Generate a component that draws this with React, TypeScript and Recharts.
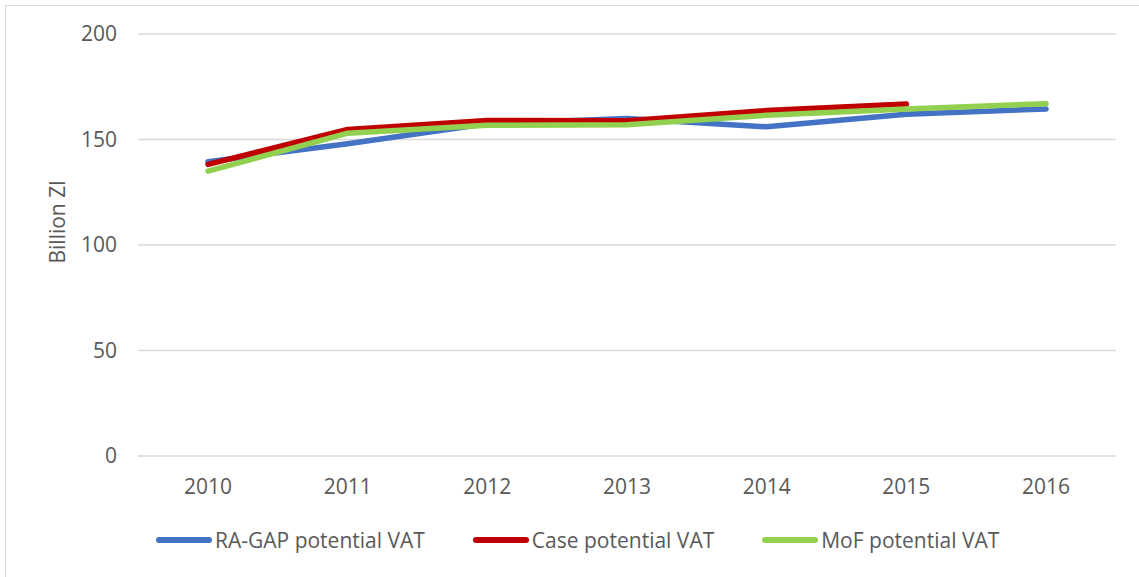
import React from "react";
import { LineChart, Line, XAxis, YAxis, CartesianGrid } from "recharts";

const years = ["2010", "2011", "2012", "2013", "2014", "2015", "2016"];
const raGap = [139.5, 148, 157.5, 160, 156, 162, 164.5];
const casePotential = [138.2, 154.8, 159, 158.9, 163.7, 166.8, null];
const mofPotential = [135, 153, 156.7, 157, 161.5, 164.5, 167];
const yTicks = [0, 50, 100, 150, 200];

const seriesInfo = [
  { key: "ra", name: "RA-GAP potential VAT", color: "#4472C4" },
  { key: "cs", name: "Case potential VAT", color: "#C00000" },
  { key: "mof", name: "MoF potential VAT", color: "#92D050" },
];

const data = years.map((y, i) => ({
  year: y,
  ra: raGap[i],
  cs: casePotential[i],
  mof: mofPotential[i],
}));

const font = "'Open Sans', sans-serif";
const textColor = "#595959";
const fs = 21;

function LegendRow() {
  return (
    <div
      style={{
        position: "absolute",
        left: 156,
        top: 526,
        display: "flex",
        fontFamily: font,
        fontSize: fs,
        color: textColor,
        lineHeight: "28px",
      }}
    >
      {seriesInfo.map((s) => (
        <div key={s.key} style={{ display: "flex", alignItems: "center", marginRight: 48 }}>
          <div style={{ width: 56, height: 6, borderRadius: 3, background: s.color, marginRight: 3 }} />
          <span>{s.name}</span>
        </div>
      ))}
    </div>
  );
}

export default function App() {
  return (
    <div
      style={{
        position: "absolute",
        left: 0,
        top: 0,
        width: 1139,
        height: 577,
        background: "#fff",
        overflow: "hidden",
      }}
    >
      <div
        style={{
          position: "absolute",
          left: 5,
          top: 5,
          width: 1200,
          height: 620,
          border: "1.5px solid #d9d9d9",
        }}
      />
      <div style={{ position: "absolute", left: 0, top: 0 }}>
        <LineChart
          width={1139}
          height={577}
          data={data}
          margin={{ top: 34, right: 23, bottom: 91, left: 48 }}
        >
          <CartesianGrid vertical={false} stroke="#d9d9d9" strokeWidth={1.5} />
          <XAxis
            dataKey="year"
            height={30}
            padding={{ left: 70, right: 70 }}
            axisLine={false}
            tickLine={false}
            tickSize={0}
            tickMargin={23}
            tick={{ fontSize: fs, fill: textColor, fontFamily: font }}
          />
          <YAxis
            width={90}
            domain={[0, 200]}
            ticks={yTicks}
            axisLine={false}
            tickLine={false}
            tickSize={0}
            tickMargin={21}
            tick={{ fontSize: fs, fill: textColor, fontFamily: font }}
            label={{
              content: () => (
                <text
                  x={57}
                  y={222}
                  transform="rotate(-90 57 222)"
                  textAnchor="middle"
                  dominantBaseline="central"
                  fontSize={fs}
                  fill={textColor}
                  fontFamily={font}
                >
                  Billion Zl
                </text>
              ),
            }}
          />
          {seriesInfo.map((s) => (
            <Line
              key={s.key}
              dataKey={s.key}
              name={s.name}
              stroke={s.color}
              strokeWidth={5.5}
              strokeLinecap="round"
              strokeLinejoin="round"
              dot={false}
              activeDot={false}
              isAnimationActive={false}
            />
          ))}
        </LineChart>
      </div>
      <LegendRow />
    </div>
  );
}
